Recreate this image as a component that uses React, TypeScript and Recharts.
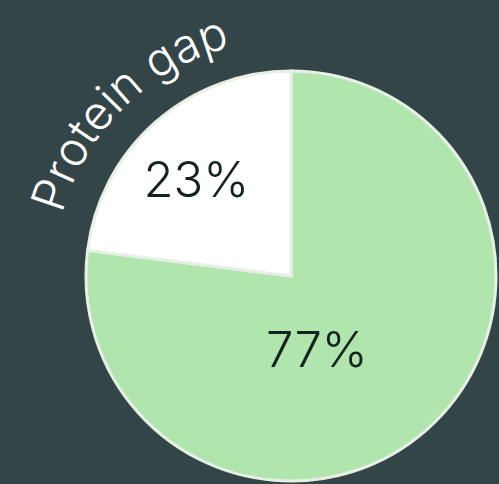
import { PieChart, Pie, Cell } from "recharts";

const sliceNames = ["Covered", "Protein gap"];
const sliceValues = [77, 23];
const sliceColors = ["#b0e6ae", "#ffffff"];
const chartTitle = "Protein gap";

const data = sliceNames.map((name, i) => ({ name, value: sliceValues[i] }));

const RAD = Math.PI / 180;
// label tweaks per slice: angle shift (deg) and radius fraction
const labelPlace = [
  { shift: -22, frac: 0.38 },
  { shift: 3, frac: 0.66 },
];

function renderLabel(props: any) {
  const { cx, cy, midAngle, outerRadius, index, value } = props;
  const p = labelPlace[index];
  const a = (midAngle + p.shift) * RAD;
  const r = outerRadius * p.frac;
  const x = cx + r * Math.cos(a);
  const y = cy - r * Math.sin(a);

  let title = null;
  if (index === 1) {
    // arc above the small slice for the curved title
    const R = outerRadius + 32;
    const a1 = (midAngle + 80) * RAD;
    const a2 = (midAngle - 80) * RAD;
    const d = `M ${cx + R * Math.cos(a1)} ${cy - R * Math.sin(a1)} A ${R} ${R} 0 0 1 ${cx + R * Math.cos(a2)} ${cy - R * Math.sin(a2)}`;
    title = (
      <g>
        <path id="titleArc" d={d} fill="none" stroke="none" />
        <text fill="#ffffff" fontSize={47} fontWeight={300} fontFamily="Inter, sans-serif">
          <textPath href="#titleArc" startOffset="47.9%" textAnchor="middle">
            {chartTitle}
          </textPath>
        </text>
      </g>
    );
  }

  return (
    <g>
      <text
        x={x}
        y={y}
        fill="#13231f"
        fontSize={49}
        fontWeight={300}
        fontFamily="Inter, sans-serif"
        textAnchor="middle"
        dominantBaseline="central"
      >
        {value}%
      </text>
      {title}
    </g>
  );
}

export default function App() {
  return (
    <div style={{ position: "fixed", left: 0, top: 0, width: 499, height: 484, background: "#344548", overflow: "hidden" }}>
      <PieChart width={499} height={484} margin={{ top: 0, right: 0, bottom: 0, left: 0 }}>
        <Pie
          data={data}
          dataKey="value"
          nameKey="name"
          cx={291}
          cy={276}
          outerRadius={205}
          startAngle={90}
          endAngle={-270}
          stroke="#e8f0e6"
          strokeWidth={3}
          labelLine={false}
          label={renderLabel}
          isAnimationActive={false}
        >
          {data.map((d, i) => (
            <Cell key={d.name} fill={sliceColors[i]} />
          ))}
        </Pie>
      </PieChart>
    </div>
  );
}
